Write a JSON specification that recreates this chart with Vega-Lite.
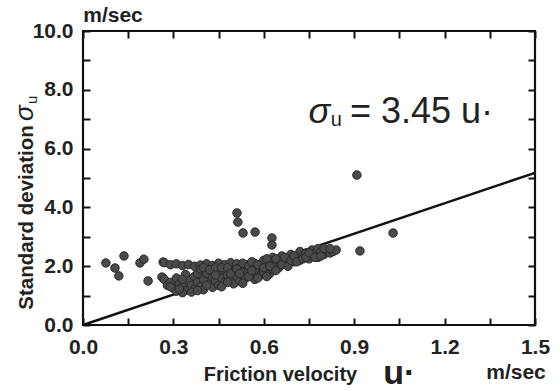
{
  "$schema": "https://vega.github.io/schema/vega-lite/v6.json",
  "width": 452,
  "height": 294,
  "autosize": "none",
  "padding": {"left": 83, "top": 31, "right": 25, "bottom": 66},
  "background": "white",
  "config": {
    "view": {"stroke": "#111", "strokeWidth": 2.2},
    "font": "Liberation Sans",
    "axis": {"ticks": true, "tickWidth": 2, "tickColor": "#111", "tickOpacity": 1}
  },
  "datasets": {
    "obs": [
      {"u": 0.076, "sigma": 2.11}, {"u": 0.106, "sigma": 1.94}, {"u": 0.119, "sigma": 1.67},
      {"u": 0.136, "sigma": 2.35}, {"u": 0.189, "sigma": 2.11}, {"u": 0.202, "sigma": 2.24},
      {"u": 0.216, "sigma": 1.50}, {"u": 0.266, "sigma": 2.14}, {"u": 0.262, "sigma": 1.63},
      {"u": 0.511, "sigma": 3.81}, {"u": 0.514, "sigma": 3.50}, {"u": 0.531, "sigma": 3.13},
      {"u": 0.571, "sigma": 3.16}, {"u": 0.627, "sigma": 2.96}, {"u": 0.627, "sigma": 2.72},
      {"u": 0.909, "sigma": 5.10}, {"u": 1.029, "sigma": 3.13}, {"u": 0.919, "sigma": 2.52},
      {"u": 0.27, "sigma": 2.12}, {"u": 0.29, "sigma": 2.05}, {"u": 0.31, "sigma": 2.08},
      {"u": 0.33, "sigma": 2.02}, {"u": 0.35, "sigma": 2.06}, {"u": 0.37, "sigma": 2.00},
      {"u": 0.39, "sigma": 2.04}, {"u": 0.41, "sigma": 2.08}, {"u": 0.43, "sigma": 2.02},
      {"u": 0.45, "sigma": 2.10}, {"u": 0.47, "sigma": 2.05}, {"u": 0.49, "sigma": 2.12},
      {"u": 0.51, "sigma": 2.08},
      {"u": 0.27, "sigma": 1.55}, {"u": 0.28, "sigma": 1.35}, {"u": 0.29, "sigma": 1.45},
      {"u": 0.30, "sigma": 1.25}, {"u": 0.31, "sigma": 1.15}, {"u": 0.31, "sigma": 1.60},
      {"u": 0.32, "sigma": 1.40}, {"u": 0.33, "sigma": 1.30}, {"u": 0.34, "sigma": 1.18},
      {"u": 0.34, "sigma": 1.72}, {"u": 0.35, "sigma": 1.50}, {"u": 0.36, "sigma": 1.35},
      {"u": 0.37, "sigma": 1.22}, {"u": 0.37, "sigma": 1.65}, {"u": 0.38, "sigma": 1.45},
      {"u": 0.39, "sigma": 1.30}, {"u": 0.40, "sigma": 1.55}, {"u": 0.40, "sigma": 1.20},
      {"u": 0.41, "sigma": 1.75}, {"u": 0.42, "sigma": 1.40}, {"u": 0.43, "sigma": 1.28},
      {"u": 0.43, "sigma": 1.62}, {"u": 0.44, "sigma": 1.50}, {"u": 0.45, "sigma": 1.35},
      {"u": 0.45, "sigma": 1.80}, {"u": 0.46, "sigma": 1.60}, {"u": 0.47, "sigma": 1.45},
      {"u": 0.47, "sigma": 1.90}, {"u": 0.48, "sigma": 1.70}, {"u": 0.49, "sigma": 1.55},
      {"u": 0.50, "sigma": 1.85}, {"u": 0.50, "sigma": 1.40},
      {"u": 0.51, "sigma": 1.65}, {"u": 0.52, "sigma": 1.95}, {"u": 0.52, "sigma": 1.50},
      {"u": 0.53, "sigma": 1.80}, {"u": 0.54, "sigma": 2.05}, {"u": 0.54, "sigma": 1.60},
      {"u": 0.55, "sigma": 1.90}, {"u": 0.56, "sigma": 1.70}, {"u": 0.57, "sigma": 2.10},
      {"u": 0.57, "sigma": 1.55}, {"u": 0.58, "sigma": 1.85}, {"u": 0.59, "sigma": 2.00},
      {"u": 0.59, "sigma": 1.70}, {"u": 0.60, "sigma": 2.20}, {"u": 0.60, "sigma": 1.80},
      {"u": 0.61, "sigma": 1.95}, {"u": 0.62, "sigma": 2.10}, {"u": 0.62, "sigma": 1.75},
      {"u": 0.63, "sigma": 2.30}, {"u": 0.63, "sigma": 1.90}, {"u": 0.64, "sigma": 2.05},
      {"u": 0.65, "sigma": 2.20}, {"u": 0.65, "sigma": 1.95},
      {"u": 0.66, "sigma": 2.35}, {"u": 0.67, "sigma": 2.10}, {"u": 0.68, "sigma": 2.25},
      {"u": 0.69, "sigma": 2.40}, {"u": 0.70, "sigma": 2.15}, {"u": 0.71, "sigma": 2.30},
      {"u": 0.72, "sigma": 2.50}, {"u": 0.72, "sigma": 2.20}, {"u": 0.73, "sigma": 2.35},
      {"u": 0.74, "sigma": 2.45}, {"u": 0.75, "sigma": 2.25}, {"u": 0.76, "sigma": 2.55},
      {"u": 0.76, "sigma": 2.35}, {"u": 0.77, "sigma": 2.45}, {"u": 0.78, "sigma": 2.60},
      {"u": 0.78, "sigma": 2.30}, {"u": 0.79, "sigma": 2.50}, {"u": 0.80, "sigma": 2.40},
      {"u": 0.81, "sigma": 2.55}, {"u": 0.82, "sigma": 2.45}, {"u": 0.83, "sigma": 2.50},
      {"u": 0.84, "sigma": 2.55},
      {"u": 0.33, "sigma": 1.55}, {"u": 0.38, "sigma": 1.75}, {"u": 0.39, "sigma": 1.90},
      {"u": 0.40, "sigma": 1.95}, {"u": 0.41, "sigma": 1.35}, {"u": 0.42, "sigma": 1.88},
      {"u": 0.44, "sigma": 1.95}, {"u": 0.44, "sigma": 1.70}, {"u": 0.46, "sigma": 1.95},
      {"u": 0.46, "sigma": 1.30}, {"u": 0.48, "sigma": 1.95}, {"u": 0.48, "sigma": 1.45},
      {"u": 0.49, "sigma": 1.75}, {"u": 0.51, "sigma": 1.90}, {"u": 0.52, "sigma": 1.75},
      {"u": 0.53, "sigma": 2.10}, {"u": 0.53, "sigma": 1.42}, {"u": 0.55, "sigma": 2.00},
      {"u": 0.55, "sigma": 1.65}, {"u": 0.56, "sigma": 1.85}, {"u": 0.56, "sigma": 2.15},
      {"u": 0.58, "sigma": 2.05}, {"u": 0.58, "sigma": 1.60}, {"u": 0.60, "sigma": 1.95},
      {"u": 0.61, "sigma": 2.25}, {"u": 0.61, "sigma": 1.65}, {"u": 0.62, "sigma": 2.00},
      {"u": 0.64, "sigma": 2.25}, {"u": 0.64, "sigma": 1.85}, {"u": 0.66, "sigma": 2.05},
      {"u": 0.67, "sigma": 2.30}, {"u": 0.68, "sigma": 2.00}, {"u": 0.69, "sigma": 2.20},
      {"u": 0.70, "sigma": 2.35}, {"u": 0.71, "sigma": 2.15}, {"u": 0.73, "sigma": 2.25},
      {"u": 0.74, "sigma": 2.30}, {"u": 0.75, "sigma": 2.45}, {"u": 0.77, "sigma": 2.30},
      {"u": 0.79, "sigma": 2.35}, {"u": 0.80, "sigma": 2.60}, {"u": 0.82, "sigma": 2.60},
      {"u": 0.33, "sigma": 1.10}, {"u": 0.36, "sigma": 1.12}, {"u": 0.38, "sigma": 1.17},
      {"u": 0.29, "sigma": 1.30}, {"u": 0.32, "sigma": 1.22}
    ],
    "fit": [{"u": 0, "sigma": 0}, {"u": 1.5, "sigma": 5.175}]
  },
  "layer": [
    {
      "data": {"name": "fit"},
      "mark": {"type": "line", "color": "#111", "strokeWidth": 2.5},
      "encoding": {
        "x": {"field": "u", "type": "quantitative", "scale": {"domain": [0, 1.5], "nice": false, "zero": false},
          "axis": {"orient": "top", "offset": -7, "values": [0, 0.15, 0.3, 0.45, 0.6, 0.75, 0.9, 1.05, 1.2, 1.35, 1.5], "labels": false, "title": null, "grid": false, "domain": false, "ticks": true, "tickSize": 7}},
        "y": {"field": "sigma", "type": "quantitative", "scale": {"domain": [0, 10], "nice": false, "zero": false},
          "axis": {"orient": "right", "offset": -7, "values": [0, 1, 2, 3, 4, 5, 6, 7, 8, 9, 10], "labels": false, "title": null, "grid": false, "domain": false, "ticks": true, "tickSize": 7}}
      }
    },
    {
      "data": {"name": "obs"},
      "mark": {"type": "circle", "size": 72, "fill": "#4a4a4a", "stroke": "#2a2a2a", "strokeWidth": 1, "opacity": 1},
      "encoding": {
        "x": {"field": "u", "type": "quantitative",
          "axis": {"orient": "bottom", "offset": -7, "values": [0, 0.15, 0.3, 0.45, 0.6, 0.75, 0.9, 1.05, 1.2, 1.35, 1.5],
            "labelExpr": "abs(datum.value / 0.3 - round(datum.value / 0.3)) < 0.01 ? format(datum.value, '.1f') : ''",
            "grid": false, "domain": false, "ticks": true, "tickSize": 7,
            "labelFontSize": 21, "labelFontWeight": "bold", "labelColor": "#222", "labelPadding": 11, "labelFlush": false, "labelOverlap": false, "labelBound": false,
            "title": "Friction velocity", "titleFontSize": 20, "titleFontWeight": "bold", "titleColor": "#222",
            "titleX": 197, "titleY": 62, "titleBaseline": "alphabetic", "titleAlign": "center"}},
        "y": {"field": "sigma", "type": "quantitative",
          "axis": {"orient": "left", "offset": -7, "values": [0, 1, 2, 3, 4, 5, 6, 7, 8, 9, 10],
            "labelExpr": "datum.value % 2 == 0 ? format(datum.value, '.1f') : ''",
            "grid": false, "domain": false, "ticks": true, "tickSize": 7,
            "labelFontSize": 21, "labelFontWeight": "bold", "labelColor": "#222", "labelPadding": 10, "labelFlush": false, "labelOverlap": false, "labelBound": false,
            "title": "Standard deviation", "titleFontSize": 20.5, "titleFontWeight": "bold", "titleColor": "#222",
            "titleAngle": 270, "titleX": -58, "titleY": 186, "titleBaseline": "alphabetic", "titleAlign": "center"}}
      }
    },
    {
      "data": {"values": [{"label": "σ"}]},
      "mark": {"type": "text", "fontStyle": "italic", "fontSize": 36, "align": "left", "baseline": "alphabetic", "color": "#222"},
      "encoding": {"x": {"datum": 0.748, "type": "quantitative", "axis": null}, "y": {"datum": 6.87, "type": "quantitative", "axis": null}, "text": {"field": "label"}}
    },
    {
      "data": {"values": [{"label": "u"}]},
      "mark": {"type": "text", "fontSize": 20, "align": "left", "baseline": "alphabetic", "color": "#222"},
      "encoding": {"x": {"datum": 0.822, "type": "quantitative", "axis": null}, "y": {"datum": 6.78, "type": "quantitative", "axis": null}, "text": {"field": "label"}}
    },
    {
      "data": {"values": [{"label": "= 3.45 u·"}]},
      "mark": {"type": "text", "fontSize": 36, "align": "left", "baseline": "alphabetic", "color": "#222"},
      "encoding": {"x": {"datum": 0.886, "type": "quantitative", "axis": null}, "y": {"datum": 6.87, "type": "quantitative", "axis": null}, "text": {"field": "label"}}
    },
    {
      "data": {"values": [{"label": "σ"}]},
      "mark": {"type": "text", "fontStyle": "italic", "fontSize": 26, "align": "left", "baseline": "alphabetic", "angle": 270, "color": "#222"},
      "encoding": {"x": {"datum": -0.166, "type": "quantitative", "axis": null}, "y": {"datum": 6.94, "type": "quantitative", "axis": null}, "text": {"field": "label"}}
    },
    {
      "data": {"values": [{"label": "u"}]},
      "mark": {"type": "text", "fontSize": 15, "align": "left", "baseline": "alphabetic", "angle": 270, "color": "#222"},
      "encoding": {"x": {"datum": -0.153, "type": "quantitative", "axis": null}, "y": {"datum": 7.52, "type": "quantitative", "axis": null}, "text": {"field": "label"}}
    },
    {
      "data": {"values": [{"label": "u·"}]},
      "mark": {"type": "text", "fontSize": 34, "fontWeight": "bold", "align": "left", "baseline": "alphabetic", "color": "#222"},
      "encoding": {"x": {"datum": 0.996, "type": "quantitative", "axis": null}, "y": {"datum": -2.0, "type": "quantitative", "axis": null}, "text": {"field": "label"}}
    },
    {
      "data": {"values": [{"label": "m/sec"}]},
      "mark": {"type": "text", "fontSize": 21, "fontWeight": "bold", "align": "center", "baseline": "alphabetic", "color": "#222"},
      "encoding": {"x": {"datum": 1.437, "type": "quantitative", "axis": null}, "y": {"datum": -1.84, "type": "quantitative", "axis": null}, "text": {"field": "label"}}
    },
    {
      "data": {"values": [{"label": "m/sec"}]},
      "mark": {"type": "text", "fontSize": 21, "fontWeight": "bold", "align": "center", "baseline": "alphabetic", "color": "#222"},
      "encoding": {"x": {"datum": 0.0996, "type": "quantitative", "axis": null}, "y": {"datum": 10.31, "type": "quantitative", "axis": null}, "text": {"field": "label"}}
    }
  ],
  "resolve": {"axis": {"x": "independent", "y": "independent"}}
}
